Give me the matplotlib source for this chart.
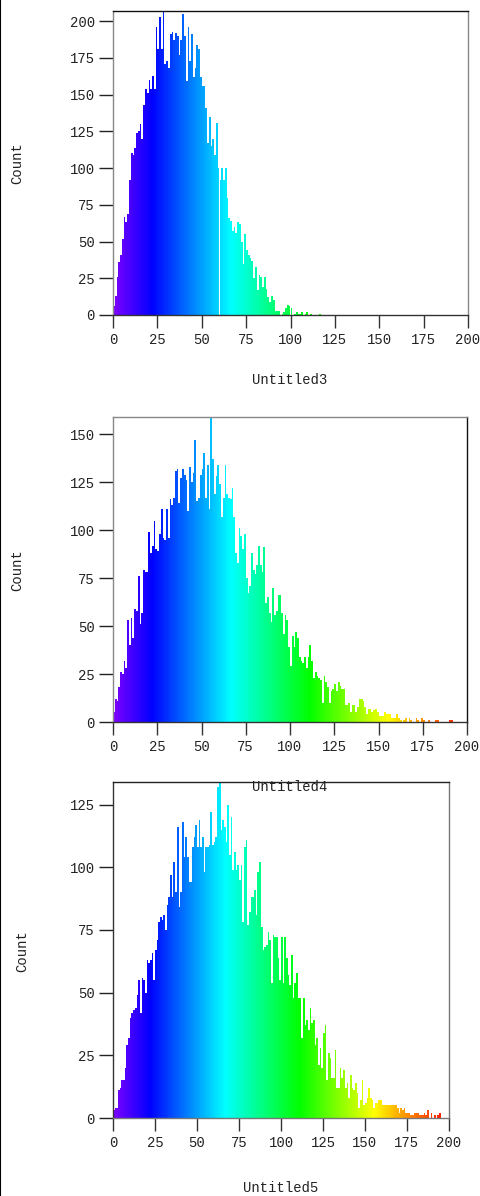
import matplotlib
matplotlib.use("Agg")
import matplotlib.pyplot as plt
import numpy as np
from matplotlib.colors import hsv_to_rgb
from matplotlib.lines import Line2D

plt.rcParams['font.family'] = ['Liberation Mono', 'DejaVu Sans Mono']

# histogram counts, one per unit-wide bin starting at 0
counts3 = [6, 13, 26, 36, 41, 52, 67, 63, 69, 92,
           110, 109, 114, 124, 125, 130, 120, 143, 154, 151,
           160, 154, 163, 154, 196, 181, 203, 181, 207, 171,
           173, 168, 191, 193, 187, 192, 190, 177, 187, 205,
           190, 159, 196, 173, 191, 162, 168, 184, 181, 162,
           156, 156, 141, 117, 135, 115, 120, 109, 131, 100,
           92, 100, 92, 100, 80, 66, 64, 57, 60, 56,
           63, 62, 50, 35, 55, 44, 41, 39, 37, 25,
           33, 17, 27, 26, 19, 26, 18, 12, 9, 13,
           10, 3, 3, 3, 0, 1, 2, 5, 7, 6,
           5, 0, 1, 2, 1, 1, 2, 0, 1, 2,
           0, 1, 0, 0, 0, 0, 1]

counts4 = [5, 12, 11, 18, 26, 25, 32, 28, 53, 40,
           54, 44, 59, 58, 76, 51, 57, 79, 78, 78,
           99, 88, 92, 105, 90, 89, 98, 111, 96, 95,
           111, 96, 116, 113, 117, 131, 132, 114, 127, 132,
           129, 126, 110, 133, 125, 130, 147, 115, 117, 129,
           132, 140, 117, 134, 111, 159, 137, 119, 128, 134,
           124, 107, 117, 134, 119, 117, 116, 122, 107, 88,
           83, 101, 97, 90, 98, 75, 67, 71, 88, 79,
           77, 82, 92, 82, 78, 91, 62, 65, 57, 52,
           70, 56, 58, 66, 66, 57, 46, 56, 53, 39,
           29, 45, 39, 47, 44, 34, 32, 31, 34, 28,
           34, 40, 32, 23, 26, 24, 23, 22, 10, 24,
           21, 18, 10, 16, 17, 20, 16, 21, 19, 17,
           17, 9, 9, 10, 5, 9, 9, 5, 8, 12,
           12, 11, 8, 4, 7, 7, 5, 6, 7, 5,
           3, 3, 3, 5, 4, 4, 4, 2, 2, 2,
           4, 2, 1, 0, 1, 2, 0, 2, 1, 0,
           0, 2, 1, 0, 2, 1, 0, 0, 1, 0,
           0, 0, 1, 1, 0, 0, 0, 0, 0, 0,
           1, 1]

counts5 = [3, 4, 4, 11, 12, 15, 15, 20, 29, 32,
           40, 42, 43, 44, 49, 55, 42, 56, 55, 50,
           63, 62, 63, 66, 55, 67, 71, 78, 80, 79,
           81, 75, 85, 88, 97, 88, 102, 90, 116, 84,
           90, 118, 104, 112, 104, 94, 94, 108, 112, 117,
           108, 119, 108, 112, 98, 108, 108, 109, 122, 109,
           110, 112, 132, 134, 115, 119, 116, 110, 125, 105,
           120, 99, 106, 99, 101, 95, 101, 78, 108, 111,
           77, 82, 88, 88, 91, 81, 98, 102, 76, 67,
           68, 69, 74, 71, 54, 73, 72, 72, 64, 55,
           72, 54, 72, 64, 57, 53, 65, 48, 54, 58,
           48, 48, 32, 48, 37, 39, 35, 44, 38, 39,
           29, 32, 21, 28, 20, 34, 37, 15, 26, 24,
           16, 16, 27, 12, 12, 20, 16, 19, 12, 14,
           8, 17, 12, 11, 14, 10, 4, 7, 15, 5,
           6, 8, 12, 8, 7, 4, 6, 6, 7, 7,
           5, 5, 5, 5, 5, 5, 5, 5, 5, 4,
           2, 4, 3, 4, 2, 2, 2, 1, 1, 2,
           2, 2, 1, 1, 1, 2, 1, 3, 0, 2,
           0, 1, 0, 1, 2]

names = ['Untitled3', 'Untitled4', 'Untitled5']
datasets = [counts3, counts4, counts5]

W, H = 481, 1196
fig = plt.figure(figsize=(W / 100, H / 100), dpi=100)

# axes boxes in pixels: left, top, right, bottom
boxes = [(113, 11, 468, 315), (113, 417, 467, 722), (113, 782, 449, 1118)]
xlabel_pos = [(290, 380), (290, 787), (281, 1188)]
ylabel_pos = [(17, 163), (17, 570), (22, 951)]
spine_cols = [
    {'top': '#111111', 'right': '#888888', 'left': '#888888', 'bottom': '#333333'},
    {'top': '#888888', 'right': '#111111', 'left': '#888888', 'bottom': '#333333'},
    {'top': '#222222', 'right': '#777777', 'left': '#333333', 'bottom': '#777777'},
]


def colour(x):
    # violet at 0 through blue, cyan, green, yellow to red at 200
    h = 0.75 * (1 - np.clip(x, 0, 200) / 200.0)
    return hsv_to_rgb(np.stack([h, np.ones_like(h), np.ones_like(h)], axis=-1))


for i, (name, counts) in enumerate(zip(names, datasets)):
    l, t, r, b = boxes[i]
    ax = fig.add_axes([l / W, 1 - b / H, (r - l) / W, (b - t) / H])
    x = np.arange(len(counts))
    ax.bar(x, counts, width=1.0, align='edge', color=colour(x + 0.5), linewidth=0)
    ax.set_xlim(0, 200)
    ax.set_ylim(0, max(counts))
    ax.set_xticks(range(0, 201, 25))
    ax.set_yticks(range(0, int(max(counts)) + 1, 25))
    ax.tick_params(axis='y', length=10, width=1, color='#222222', pad=3,
                   labelsize=10, labelcolor='#222222')
    ax.tick_params(axis='x', length=9, width=1, color='#333333', pad=4,
                   labelsize=10, labelcolor='#222222')
    for side, c in spine_cols[i].items():
        ax.spines[side].set_color(c)
        ax.spines[side].set_linewidth(1)
    fig.text(xlabel_pos[i][0] / W, 1 - xlabel_pos[i][1] / H, name,
             ha='center', va='center', fontsize=10, color='#222222')
    fig.text(ylabel_pos[i][0] / W, 1 - ylabel_pos[i][1] / H, 'Count',
             ha='center', va='center', rotation=90, fontsize=10, color='#222222')

fig.add_artist(Line2D([0.001, 0.001], [0, 1], color='black', lw=1.5))

fig.savefig('out.png', dpi=100)
